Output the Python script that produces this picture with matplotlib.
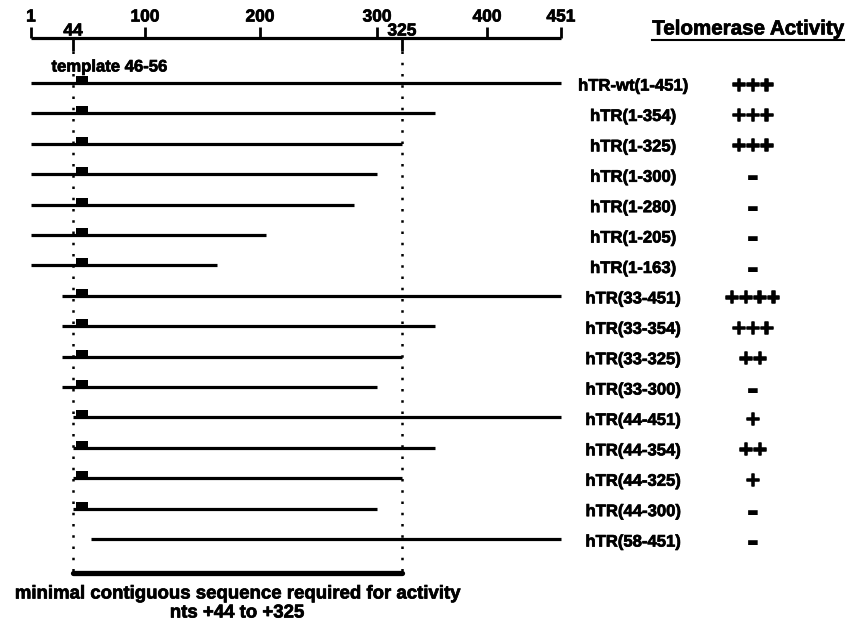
import numpy as np
import matplotlib
matplotlib.use("Agg")
import matplotlib.pyplot as plt
from matplotlib.patches import Rectangle
from matplotlib.lines import Line2D
import matplotlib.transforms as mtransforms
import matplotlib.patheffects as pe

plt.rcParams['font.family'] = ['Liberation Sans', 'DejaVu Sans']
plt.rcParams['font.weight'] = 'bold'

# ---------------- data ----------------
constructs = ["hTR-wt(1-451)", "hTR(1-354)", "hTR(1-325)", "hTR(1-300)", "hTR(1-280)",
              "hTR(1-205)", "hTR(1-163)", "hTR(33-451)", "hTR(33-354)", "hTR(33-325)",
              "hTR(33-300)", "hTR(44-451)", "hTR(44-354)", "hTR(44-325)", "hTR(44-300)",
              "hTR(58-451)"]
starts = [1, 1, 1, 1, 1, 1, 1, 33, 33, 33, 33, 44, 44, 44, 44, 58]
ends = [451, 354, 325, 300, 280, 205, 163, 451, 354, 325, 300, 451, 354, 325, 300, 451]
activity = ["+++", "+++", "+++", "-", "-", "-", "-", "++++", "+++", "++", "-",
            "+", "++", "+", "-", "-"]
has_template = [True] * 15 + [False]
template = (46, 56)
minimal = (44, 325)
top_ticks = [1, 100, 200, 300, 400, 451]
low_ticks = [44, 325]

# ---------------- figure ----------------
W, H = 850, 623
fig = plt.figure(figsize=(W / 100, H / 100), dpi=100)
ax = fig.add_axes([0, 0, 1, 1])
ax.set_axis_off()

# the drawing's nucleotide ruler is hand-spaced; map nt -> pixel through its ticks
NT = np.array([1, 44, 100, 200, 300, 325, 400, 451], float)
PX = np.array([31, 73, 145, 260, 377, 402, 487, 561], float)
sl_l = (PX[1] - PX[0]) / (NT[1] - NT[0])
sl_r = (PX[-1] - PX[-2]) / (NT[-1] - NT[-2])

def fwd(x):
    x = np.asarray(x, float)
    y = np.interp(x, NT, PX)
    y = np.where(x < NT[0], PX[0] + (x - NT[0]) * sl_l, y)
    y = np.where(x > NT[-1], PX[-1] + (x - NT[-1]) * sl_r, y)
    return y

def inv(p):
    p = np.asarray(p, float)
    x = np.interp(p, PX, NT)
    x = np.where(p < PX[0], NT[0] + (p - PX[0]) / sl_l, x)
    x = np.where(p > PX[-1], NT[-1] + (p - PX[-1]) / sl_r, x)
    return x

ax.set_xscale('function', functions=(fwd, inv))
ax.set_xlim(float(inv(0)), float(inv(W)))

row0_px, row_step = 83.0, 30.4
def prow(py):
    return (py - row0_px) / row_step
ax.set_ylim(prow(H), prow(0))

bold_fx = [pe.withStroke(linewidth=0.5, foreground='black')]
plus_fx = [pe.withStroke(linewidth=1.1, foreground='black')]

lw_row = 2.3
# construct lines
for i, (s, e) in enumerate(zip(starts, ends)):
    ax.plot([s, e], [i, i], color='black', lw=lw_row, solid_capstyle='butt')
    if has_template[i]:
        ax.add_patch(Rectangle((template[0], i), template[1] - template[0], -0.23,
                               color='black', lw=0))

# ruler
y_axis = prow(38)
ax.plot([top_ticks[0], top_ticks[-1]], [y_axis, y_axis], color='black', lw=2.3,
        solid_capstyle='butt')
for t in top_ticks:
    ax.plot([t, t], [y_axis, prow(27)], color='black', lw=2.0, solid_capstyle='butt')
    ax.text(t, prow(17), str(t), ha='center', va='center', fontsize=12.5,
            fontweight='bold', path_effects=bold_fx)
for t in low_ticks:
    ax.plot([t, t], [y_axis, prow(51)], color='black', lw=2.0, solid_capstyle='butt')
    ax.text(t, prow(31), str(t), ha='center', va='center', fontsize=12.5,
            fontweight='bold', path_effects=bold_fx)
    ax.plot([t, t], [prow(51), prow(572)], color='black', lw=1.8,
            linestyle=(0, (1, 3.5)))

ax.text(template[0] - 24, prow(67), "template 46-56", ha='left', va='center',
        fontsize=12, fontweight='bold', path_effects=bold_fx)

# minimal sequence bar
y_bar = prow(573)
ax.plot([minimal[0], minimal[1]], [y_bar, y_bar], color='black', lw=3.8,
        solid_capstyle='round')

bx = mtransforms.blended_transform_factory(fig.transFigure, ax.transData)
cx = 237 / W
ax.text(cx, prow(594), "minimal contiguous sequence required for activity",
        transform=bx, ha='center', va='center', fontsize=13.4, fontweight='bold',
        path_effects=bold_fx)
ax.text(cx, prow(613), "nts +44 to +325", transform=bx, ha='center',
        va='center', fontsize=13.4, fontweight='bold', path_effects=bold_fx)

# labels and activity
for i, (name, act) in enumerate(zip(constructs, activity)):
    ax.text(633 / W, i + 0.1, name, transform=bx, ha='center', va='center',
            fontsize=12, fontweight='bold', path_effects=bold_fx)
    if act == "-":
        ax.text(753 / W, i + 0.12, "\u25AC", transform=bx, ha='center', va='center',
                fontsize=9, family='DejaVu Sans')
    else:
        ax.text(753 / W, i + 0.1, act, transform=bx, ha='center', va='center',
                fontsize=17, fontweight='bold', path_effects=plus_fx)

hdr = ax.text(748 / W, prow(29), "Telomerase Activity", transform=bx, ha='center',
              va='center', fontsize=14.8, fontweight='bold', path_effects=bold_fx)
fig.canvas.draw()
bb = hdr.get_window_extent()
uy = bb.y0 - 1.0
fig.add_artist(Line2D([bb.x0 / W, bb.x1 / W], [uy / H, uy / H], transform=fig.transFigure,
                      color='black', lw=1.5))

fig.savefig("out.png", dpi=100)
